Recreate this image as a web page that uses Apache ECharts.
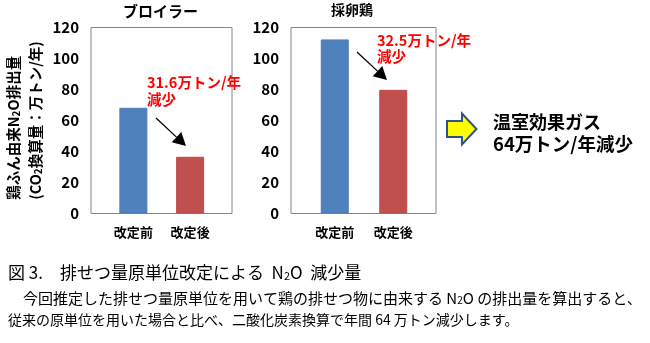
<!DOCTYPE html>
<html>
<head>
<meta charset="utf-8">
<script src="https://cdn.jsdelivr.net/npm/echarts@6/dist/echarts.min.js"></script>
<style>
  html, body { margin: 0; padding: 0; background: #fff; }
  #chart { width: 650px; height: 343px; }
</style>
</head>
<body>
<div id="chart"></div>
<script>
// N2O emissions from poultry manure, before / after the excretion-rate revision
const categories = ['改定前', '改定後'];
const broilerValues = [68.2, 36.6];   // ブロイラー
const layerValues = [112.3, 79.8];    // 採卵鶏
const panelTitles = ['ブロイラー', '採卵鶏'];
const reductionLabels = ['31.6万トン/年', '32.5万トン/年'];
const yMin = 0, yMax = 120, yStep = 20;

const JP = '"Noto Sans CJK JP", "Noto Sans", sans-serif';
const barColors = ['#4F81BD', '#C0504D'];
const barBorders = ['#4A7EBB', '#BE4B48'];

const chart = echarts.init(document.getElementById('chart'), null, { renderer: 'canvas' });

const plotTop = 27.5, plotH = 186;

const grids = [
  { left: 91, top: plotTop, width: 141, height: plotH, show: true, borderColor: '#868686', borderWidth: 1, backgroundColor: '#fff' },
  { left: 105, top: plotTop, width: 113.5, height: plotH },
  { left: 291, top: plotTop, width: 145, height: plotH, show: true, borderColor: '#868686', borderWidth: 1, backgroundColor: '#fff' },
  { left: 305.5, top: plotTop, width: 117, height: plotH }
];

const valueLabelStyle = { show: true, color: '#000', fontFamily: JP, fontWeight: 'bold', fontSize: 15, margin: 12 };

function boxYAxis(gridIndex, withName) {
  const ax = {
    type: 'value', gridIndex, min: yMin, max: yMax, interval: yStep,
    axisLine: { show: false }, axisTick: { show: false }, splitLine: { show: false },
    axisLabel: valueLabelStyle
  };
  if (withName) {
    ax.name = '{a|鶏ふん由来N}{s|2}{a|O排出量}\n{a|(CO}{s|2}{a|換算量：万トン/年)}';
    ax.nameLocation = 'middle';
    ax.nameRotate = 90;
    ax.nameGap = 48;
    ax.nameTextStyle = {
      rich: {
        a: { fontFamily: JP, fontWeight: 'bold', fontSize: 14.5, color: '#000', lineHeight: 22, verticalAlign: 'bottom', align: 'left' },
        s: { fontFamily: JP, fontWeight: 'bold', fontSize: 10, color: '#000', lineHeight: 22, verticalAlign: 'bottom', align: 'left' }
      }
    };
  }
  return ax;
}
function hiddenYAxis(gridIndex) {
  return { type: 'value', gridIndex, min: yMin, max: yMax, interval: yStep, show: false };
}
function hiddenXAxis(gridIndex) {
  return { type: 'category', gridIndex, data: categories, show: false };
}
function catXAxis(gridIndex) {
  return {
    type: 'category', gridIndex, data: categories,
    axisLine: { show: false }, axisTick: { show: false },
    axisLabel: { color: '#000', fontFamily: JP, fontWeight: 'bold', fontSize: 13, margin: 12 }
  };
}

function barSeries(idx, values) {
  return {
    type: 'bar', xAxisIndex: idx, yAxisIndex: idx, barWidth: 28,
    data: values.map((v, i) => ({
      value: v,
      itemStyle: { color: barColors[i], borderColor: barBorders[i], borderWidth: 1 }
    })),
    silent: true
  };
}

// arrow from (x1,y1) to tip (x2,y2) with a filled triangular head
function arrow(x1, y1, x2, y2, headLen, headHalf) {
  const dx = x2 - x1, dy = y2 - y1, len = Math.hypot(dx, dy);
  const ux = dx / len, uy = dy / len;
  const bx = x2 - ux * headLen, by = y2 - uy * headLen;
  const px = -uy, py = ux;
  return [
    { type: 'line', shape: { x1, y1, x2: bx, y2: by }, style: { stroke: '#000', lineWidth: 1.3 } },
    { type: 'polygon', shape: { points: [[x2, y2], [bx + px * headHalf, by + py * headHalf], [bx - px * headHalf, by - py * headHalf]] },
      style: { fill: '#000' } }
  ];
}

const redText = { fontFamily: JP, fontWeight: 'bold', fontSize: 14.5, fill: '#FF0000' };
function capRich(size) {
  return {
    n: { fontFamily: JP, fontSize: size, color: '#000' },
    s: { fontFamily: JP, fontSize: Math.round(size * 0.65), color: '#000', verticalAlign: 'bottom' }
  };
}

const graphic = [
  { type: 'text', left: 160 - 37, top: 4, style: { text: panelTitles[0], fontFamily: JP, fontWeight: 'bold', fontSize: 15, fill: '#000' } },
  { type: 'text', x: 352, y: 10, style: { text: panelTitles[1], fontFamily: JP, fontWeight: 'bold', fontSize: 14, fill: '#000', align: 'center', verticalAlign: 'middle' } },

  { type: 'text', x: 147, y: 82, style: Object.assign({ text: reductionLabels[0], verticalAlign: 'middle' }, redText) },
  { type: 'text', x: 147, y: 99, style: Object.assign({ text: '減少', verticalAlign: 'middle' }, redText) },
  { type: 'text', x: 377, y: 40, style: Object.assign({ text: reductionLabels[1], verticalAlign: 'middle' }, redText) },
  { type: 'text', x: 377, y: 56, style: Object.assign({ text: '減少', verticalAlign: 'middle' }, redText) },

  ...arrow(156, 118, 186, 146, 13, 7),
  ...arrow(357, 52, 387, 80, 13, 7),

  // block arrow pointing at the total
  { type: 'polygon',
    shape: { points: [[447, 121], [462, 121], [462, 113.5], [476.5, 129], [462, 144.5], [462, 137], [447, 137]] },
    style: { fill: '#FFFF00', stroke: '#2F528F', lineWidth: 2 } },
  { type: 'text', x: 493, y: 122, style: { text: '温室効果ガス', fontFamily: JP, fontWeight: 'bold', fontSize: 18, fill: '#000', verticalAlign: 'middle' } },
  { type: 'text', x: 493, y: 144, style: { text: '64万トン/年減少', fontFamily: JP, fontWeight: 'bold', fontSize: 18.5, fill: '#000', verticalAlign: 'middle' } },

  // caption
  { type: 'text', x: 8, y: 273, style: { text: '{n|図 3.　排せつ量原単位改定による  N}{s|2}{n|O  減少量}', rich: capRich(17), verticalAlign: 'middle' } },
  { type: 'text', x: 8, y: 298, style: { text: '{n|　今回推定した排せつ量原単位を用いて鶏の排せつ物に由来する N}{s|2}{n|O の排出量を算出すると、}', rich: capRich(15), verticalAlign: 'middle' } },
  { type: 'text', x: 8, y: 320, style: { text: '{n|従来の原単位を用いた場合と比べ、二酸化炭素換算で年間 64 万トン減少します。}', rich: capRich(14), verticalAlign: 'middle' } }
];

chart.setOption({
  animation: false,
  backgroundColor: '#fff',
  grid: grids,
  xAxis: [hiddenXAxis(0), catXAxis(1), hiddenXAxis(2), catXAxis(3)],
  yAxis: [boxYAxis(0, true), hiddenYAxis(1), boxYAxis(2, false), hiddenYAxis(3)],
  series: [
    barSeries(1, broilerValues),
    barSeries(3, layerValues)
  ],
  graphic
});
</script>
</body>
</html>
